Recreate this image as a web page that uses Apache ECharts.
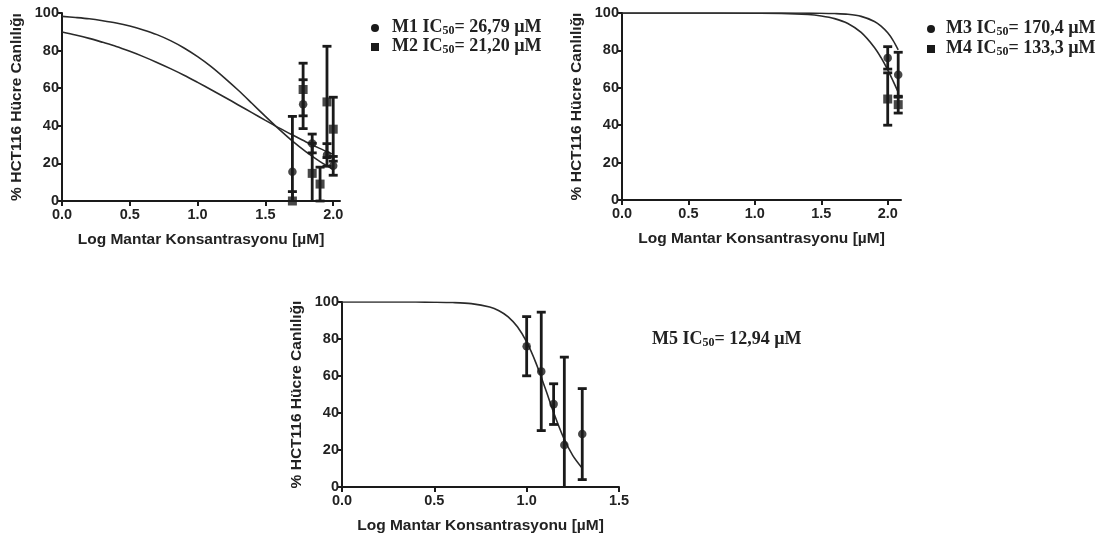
<!DOCTYPE html>
<html>
<head>
<meta charset="utf-8">
<script src="https://cdn.jsdelivr.net/npm/echarts@6/dist/echarts.min.js"></script>
<style>
html,body{margin:0;padding:0;background:#fff;}
#chart{width:1105px;height:536px;}
</style>
</head>
<body>
<div id="chart"></div>
<script>
// ---------- DATA ----------
const yTicks = [0, 20, 40, 60, 80, 100];
const xTicksTop = [0, 0.5, 1.0, 1.5, 2.0];
const xTicksBottom = [0, 0.5, 1.0, 1.5];

const xAxisTitle = 'Log Mantar Konsantrasyonu [µM]';
const yAxisTitle = '% HCT116 Hücre Canlılığı';

// Panel 1: M1 (circles), M2 (squares)
const m1X    = [1.699, 1.778, 1.845, 1.954, 2.000];
const m1Mean = [15.6, 51.5, 30.6, 24.5, 18.7];
const m1Err  = [29.4, 13.0, 5.0, 6.0, 5.0];
const m2X    = [1.699, 1.778, 1.845, 1.903, 1.954, 2.000];
const m2Mean = [0.0, 59.3, 14.7, 9.0, 52.7, 38.2];
const m2Err  = [5.0, 14.0, 16.0, 9.0, 29.6, 17.0];
const curve1X = [0, 0.1, 0.2, 0.3, 0.4, 0.5, 0.6, 0.7, 0.8, 0.9, 1.0, 1.1, 1.2, 1.3, 1.4, 1.5, 1.6, 1.7, 1.8, 1.9, 2.0];
const m1Curve = [98.2, 97.6, 96.9, 95.9, 94.7, 93.1, 91.0, 88.5, 85.3, 81.4, 76.8, 71.5, 65.4, 58.9, 52.0, 45.0, 38.2, 31.8, 26.1, 21.1, 16.8];
const m2Curve = [89.9, 88.3, 86.5, 84.4, 82.2, 79.6, 76.8, 73.7, 70.4, 66.9, 63.1, 59.2, 55.2, 51.1, 47.0, 42.9, 38.9, 35.1, 31.4, 28.0, 24.8];

// Panel 2: M3 (circles), M4 (squares)
const m3X    = [2.000, 2.079];
const m3Mean = [76.0, 67.0];
const m3Err  = [6.0, 12.0];
const m4X    = [2.000, 2.079];
const m4Mean = [54.0, 51.0];
const m4Err  = [14.0, 4.5];
const curve2X = [0, 0.5, 1.0, 1.2, 1.4, 1.5, 1.6, 1.7, 1.8, 1.9, 1.95, 2.0, 2.04, 2.079];
const m3Curve = [100, 100, 100, 100, 99.95, 99.9, 99.7, 99.3, 98.2, 95.5, 93.0, 89.4, 85.4, 80.3];
const m4Curve = [100, 100, 99.9, 99.8, 99.2, 98.4, 97.0, 94.4, 89.6, 81.6, 76.1, 69.6, 63.7, 57.6];

// Panel 3: M5
const m5X    = [1.000, 1.079, 1.146, 1.204, 1.301];
const m5Mean = [76.1, 62.5, 44.8, 22.7, 28.6];
const m5Err  = [16.0, 32.0, 11.0, 47.5, 24.6];
const curve3X = [0, 0.2, 0.4, 0.5, 0.6, 0.7, 0.8, 0.85, 0.9, 0.95, 1.0, 1.05, 1.1, 1.15, 1.2, 1.25, 1.3];
const m5Curve = [100, 100, 99.97, 99.9, 99.7, 99.1, 97.3, 95.3, 92.0, 86.6, 78.4, 67.1, 53.5, 39.2, 26.6, 17.0, 10.3];

// Legend labels
const legendItems = [
  {name: 'M1', ic50: '26,79', symbol: 'circle'},
  {name: 'M2', ic50: '21,20', symbol: 'rect'},
  {name: 'M3', ic50: '170,4', symbol: 'circle'},
  {name: 'M4', ic50: '133,3', symbol: 'rect'},
  {name: 'M5', ic50: '12,94', symbol: null}
];

// ---------- CHART ----------
const zip = (xs, ys) => xs.map((x, i) => [x, ys[i]]);
const zip3 = (xs, ys, es) => xs.map((x, i) => [x, ys[i], es[i]]);
const INK = '#1a1a1a';
const tickFont = {color: '#222', fontFamily: 'Liberation Sans, Arial, sans-serif', fontWeight: 'bold', fontSize: 14.5};
const nameFont = {color: '#222', fontFamily: 'Liberation Sans, Arial, sans-serif', fontWeight: 'bold', fontSize: 15.5};

function errRender(params, api) {
  const x = api.value(0), y = api.value(1), e = api.value(2);
  const hi = Math.min(y + e, 100), lo = Math.max(y - e, 0);
  const pHi = api.coord([x, hi]), pLo = api.coord([x, lo]);
  const cw = 4.5;
  const st = {stroke: INK, lineWidth: 2.8};
  const children = [
    {type: 'line', shape: {x1: pHi[0], y1: pHi[1], x2: pLo[0], y2: pLo[1]}, style: st},
    {type: 'line', shape: {x1: pHi[0] - cw, y1: pHi[1], x2: pHi[0] + cw, y2: pHi[1]}, style: st}
  ];
  if (y - e >= 0) {
    children.push({type: 'line', shape: {x1: pLo[0] - cw, y1: pLo[1], x2: pLo[0] + cw, y2: pLo[1]}, style: st});
  }
  return {type: 'group', children};
}

function xAxisDef(gi, max, ticks) {
  return {
    type: 'value', gridIndex: gi, min: 0, max: max,
    name: xAxisTitle, nameLocation: 'middle', nameGap: 31, nameTextStyle: nameFont,
    axisLine: {show: true, onZero: false, lineStyle: {color: INK, width: 2}},
    axisTick: {show: true, length: 5, lineStyle: {color: INK, width: 2}, customValues: ticks},
    axisLabel: {show: true, margin: 6, customValues: ticks, formatter: v => v.toFixed(1), ...tickFont},
    splitLine: {show: false}
  };
}
function yAxisDef(gi) {
  return {
    type: 'value', gridIndex: gi, min: 0, max: 100, interval: 20,
    name: yAxisTitle, nameLocation: 'middle', nameGap: 37, nameTextStyle: nameFont,
    axisLine: {show: true, lineStyle: {color: INK, width: 2}},
    axisTick: {show: true, length: 5, lineStyle: {color: INK, width: 2}},
    axisLabel: {show: true, margin: 3, ...tickFont},
    splitLine: {show: false}
  };
}
function curve(xi, xs, ys) {
  return {type: 'line', xAxisIndex: xi, yAxisIndex: xi, data: zip(xs, ys), smooth: 0.3,
    showSymbol: false, symbol: 'none', lineStyle: {color: '#2a2a2a', width: 1.6}, z: 2, silent: true};
}
function errs(xi, xs, ys, es) {
  return {type: 'custom', xAxisIndex: xi, yAxisIndex: xi, coordinateSystem: 'cartesian2d',
    data: zip3(xs, ys, es), renderItem: errRender, z: 3, silent: true};
}
function pts(xi, xs, ys, sym) {
  return {type: 'scatter', xAxisIndex: xi, yAxisIndex: xi, data: zip(xs, ys),
    symbol: sym, symbolSize: sym === 'rect' ? 9 : 8.5, itemStyle: {color: INK}, z: 4, silent: true};
}

function legendText(item, x, y) {
  return {
    type: 'text', left: x, top: y,
    style: {
      text: '{b|' + item.name + ' IC}{s|50}{b|= ' + item.ic50 + ' µM}',
      rich: {
        b: {fontFamily: 'Liberation Serif, Times New Roman, serif', fontWeight: 'bold', fontSize: 18, fill: '#222'},
        s: {fontFamily: 'Liberation Serif, Times New Roman, serif', fontWeight: 'bold', fontSize: 12, fill: '#222', padding: [7, 0, 0, 0]}
      }
    }
  };
}
function legendMark(sym, cx, cy) {
  if (sym === 'circle') return {type: 'circle', shape: {cx, cy, r: 4}, style: {fill: INK}};
  return {type: 'rect', shape: {x: cx - 4, y: cy - 4, width: 8, height: 8}, style: {fill: INK}};
}

const chart = echarts.init(document.getElementById('chart'), null, {renderer: 'canvas'});
chart.setOption({
  animation: false,
  backgroundColor: '#ffffff',
  grid: [
    {left: 62, top: 13, width: 278, height: 188},
    {left: 622, top: 13, width: 279, height: 187},
    {left: 342, top: 302, width: 277, height: 185}
  ],
  xAxis: [xAxisDef(0, 2.05, xTicksTop), xAxisDef(1, 2.1, xTicksTop), xAxisDef(2, 1.5, xTicksBottom)],
  yAxis: [yAxisDef(0), yAxisDef(1), yAxisDef(2)],
  series: [
    curve(0, curve1X, m1Curve), curve(0, curve1X, m2Curve),
    errs(0, m1X, m1Mean, m1Err), errs(0, m2X, m2Mean, m2Err),
    pts(0, m1X, m1Mean, 'circle'), pts(0, m2X, m2Mean, 'rect'),
    curve(1, curve2X, m3Curve), curve(1, curve2X, m4Curve),
    errs(1, m3X, m3Mean, m3Err), errs(1, m4X, m4Mean, m4Err),
    pts(1, m3X, m3Mean, 'circle'), pts(1, m4X, m4Mean, 'rect'),
    curve(2, curve3X, m5Curve),
    errs(2, m5X, m5Mean, m5Err),
    pts(2, m5X, m5Mean, 'circle')
  ],
  graphic: [
    legendMark(legendItems[0].symbol, 375, 28), legendText(legendItems[0], 392, 18),
    legendMark(legendItems[1].symbol, 375, 47), legendText(legendItems[1], 392, 37),
    legendMark(legendItems[2].symbol, 931, 29), legendText(legendItems[2], 946, 19),
    legendMark(legendItems[3].symbol, 931, 49), legendText(legendItems[3], 946, 39),
    legendText(legendItems[4], 652, 330)
  ]
});
</script>
</body>
</html>
